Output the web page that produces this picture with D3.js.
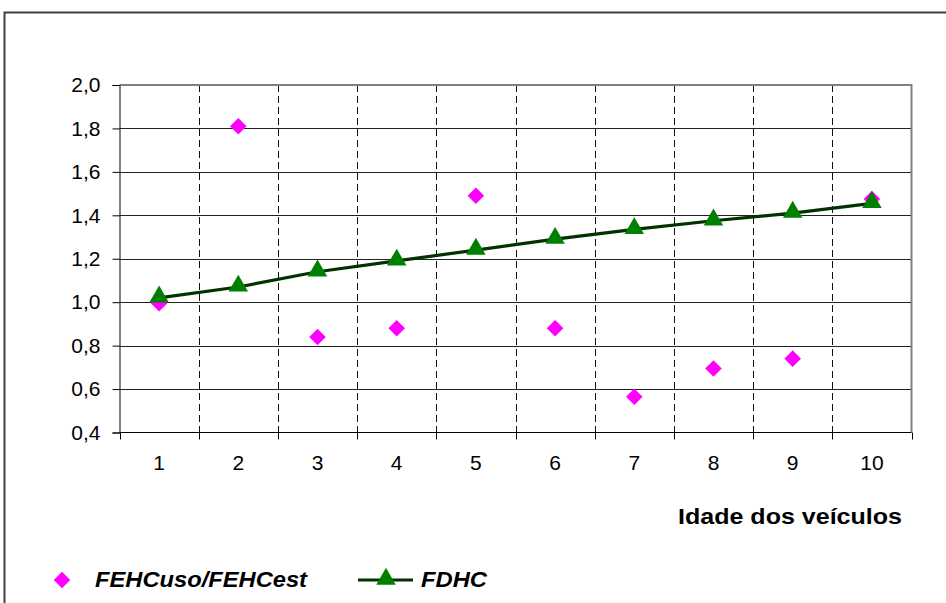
<!DOCTYPE html>
<html>
<head>
<meta charset="utf-8">
<script src="https://cdn.jsdelivr.net/npm/d3@7"></script>
<style>
  html, body { margin: 0; padding: 0; background: #fff; }
  svg { display: block; font-family: "Liberation Sans", Arial, sans-serif; }
</style>
</head>
<body>
<svg id="chart" width="946" height="603"></svg>
<script>
const categories = ["1","2","3","4","5","6","7","8","9","10"];
const fehcRatio = [0.995, 1.81, 0.84, 0.88, 1.49, 0.88, 0.565, 0.695, 0.74, 1.475];
const fdhc = [1.02, 1.07, 1.14, 1.19, 1.24, 1.29, 1.335, 1.375, 1.41, 1.455];
const yTicks = [0.4, 0.6, 0.8, 1.0, 1.2, 1.4, 1.6, 1.8, 2.0];
const xTitle = "Idade dos veículos";
const seriesNames = ["FEHCuso/FEHCest", "FDHC"];

const svg = d3.select("#chart");
const pLeft = 119.5, pRight = 911.5, pTop = 85, pBottom = 432.5;

// outer frame
svg.append("path")
  .attr("d", "M4.5,603 L4.5,12.5 L946,12.5")
  .attr("fill", "none").attr("stroke", "#404040").attr("stroke-width", 2);

const x = d3.scaleBand().domain(categories).range([pLeft, pRight]).padding(0);
const y = d3.scaleLinear().domain([0.4, 2.0]).range([pBottom, pTop]);

// horizontal gridlines
svg.append("g").selectAll("line").data(yTicks.slice(1, -1)).join("line")
  .attr("x1", pLeft).attr("x2", pRight)
  .attr("y1", d => Math.round(y(d)) + 0.5).attr("y2", d => Math.round(y(d)) + 0.5)
  .attr("stroke", "#222").attr("stroke-width", 1);

// vertical dashed gridlines at category boundaries
svg.append("g").selectAll("line").data(categories.slice(1)).join("line")
  .attr("x1", d => Math.round(x(d)) + 0.5).attr("x2", d => Math.round(x(d)) + 0.5)
  .attr("y1", pTop).attr("y2", pBottom)
  .attr("stroke", "#111").attr("stroke-width", 1).attr("stroke-dasharray", "7,4");

// plot border top/right (gray)
svg.append("path")
  .attr("d", `M${pLeft},${pTop} L${pRight},${pTop} L${pRight},${pBottom}`)
  .attr("fill", "none").attr("stroke", "#808080").attr("stroke-width", 2);

// y axis
const yAxis = svg.append("g").attr("transform", `translate(${pLeft},0)`)
  .call(d3.axisLeft(y).tickValues(yTicks).tickSize(7).tickPadding(12)
    .tickFormat(d => d.toFixed(1).replace(".", ",")));
yAxis.attr("font-size", null).attr("font-family", null);
yAxis.select(".domain").attr("stroke", "#000");
yAxis.selectAll(".tick line").attr("stroke", "#000");
yAxis.selectAll("text").style("font-size", "21px").attr("fill", "#000")
  .style("font-family", "'Liberation Sans', Arial, sans-serif");

// x axis: line, ticks at boundaries, labels at centers
const xAxis = svg.append("g").attr("transform", `translate(0,${pBottom})`)
  .call(d3.axisBottom(x).tickSize(0).tickPadding(23));
xAxis.attr("font-size", null).attr("font-family", null);
xAxis.select(".domain").attr("stroke", "#000").attr("d", `M${pLeft},0H${pRight}`);
xAxis.selectAll("text").style("font-size", "21px").attr("fill", "#000")
  .style("font-family", "'Liberation Sans', Arial, sans-serif");
const bounds = categories.map(c => x(c)).concat([x(categories[categories.length - 1]) + x.bandwidth()]);
svg.append("g").selectAll("line").data(bounds).join("line")
  .attr("x1", d => Math.round(d) + 0.5).attr("x2", d => Math.round(d) + 0.5)
  .attr("y1", pBottom).attr("y2", pBottom + 7)
  .attr("stroke", "#000");

// x title
svg.append("text").attr("x", 678).attr("y", 524)
  .style("font-size", "22px").attr("font-weight", "bold")
  .attr("textLength", 224).attr("lengthAdjust", "spacingAndGlyphs")
  .text(xTitle);

const cx = c => x(c) + x.bandwidth() / 2;
const diamond = d3.symbol().type(d3.symbolDiamond2).size(175);
const triangle = d3.symbol().type(d3.symbolTriangle).size(165);

// FDHC line
svg.append("path").datum(fdhc)
  .attr("d", d3.line().x((d, i) => cx(categories[i])).y(d => y(d)))
  .attr("fill", "none").attr("stroke", "#003300").attr("stroke-width", 3.2);

// FEHC diamonds
svg.append("g").selectAll("path").data(fehcRatio).join("path")
  .attr("transform", (d, i) => `translate(${cx(categories[i])},${y(d)})`)
  .attr("d", diamond).attr("fill", "#ff00ff");

// FDHC triangles
svg.append("g").selectAll("path").data(fdhc).join("path")
  .attr("transform", (d, i) => `translate(${cx(categories[i])},${y(d) - 1})`)
  .attr("d", triangle).attr("fill", "#008000");

// legend
svg.append("path").attr("transform", "translate(62,580)").attr("d", diamond).attr("fill", "#ff00ff");
svg.append("text").attr("x", 95).attr("y", 587)
  .style("font-size", "22px").attr("font-weight", "bold").attr("font-style", "italic")
  .attr("textLength", 212).attr("lengthAdjust", "spacingAndGlyphs")
  .text(seriesNames[0]);
svg.append("line").attr("x1", 358).attr("x2", 413).attr("y1", 580).attr("y2", 580)
  .attr("stroke", "#003300").attr("stroke-width", 3.2);
svg.append("path").attr("transform", "translate(386,579)").attr("d", triangle).attr("fill", "#008000");
svg.append("text").attr("x", 421).attr("y", 587)
  .style("font-size", "22px").attr("font-weight", "bold").attr("font-style", "italic")
  .attr("textLength", 66).attr("lengthAdjust", "spacingAndGlyphs")
  .text(seriesNames[1]);
</script>
</body>
</html>
